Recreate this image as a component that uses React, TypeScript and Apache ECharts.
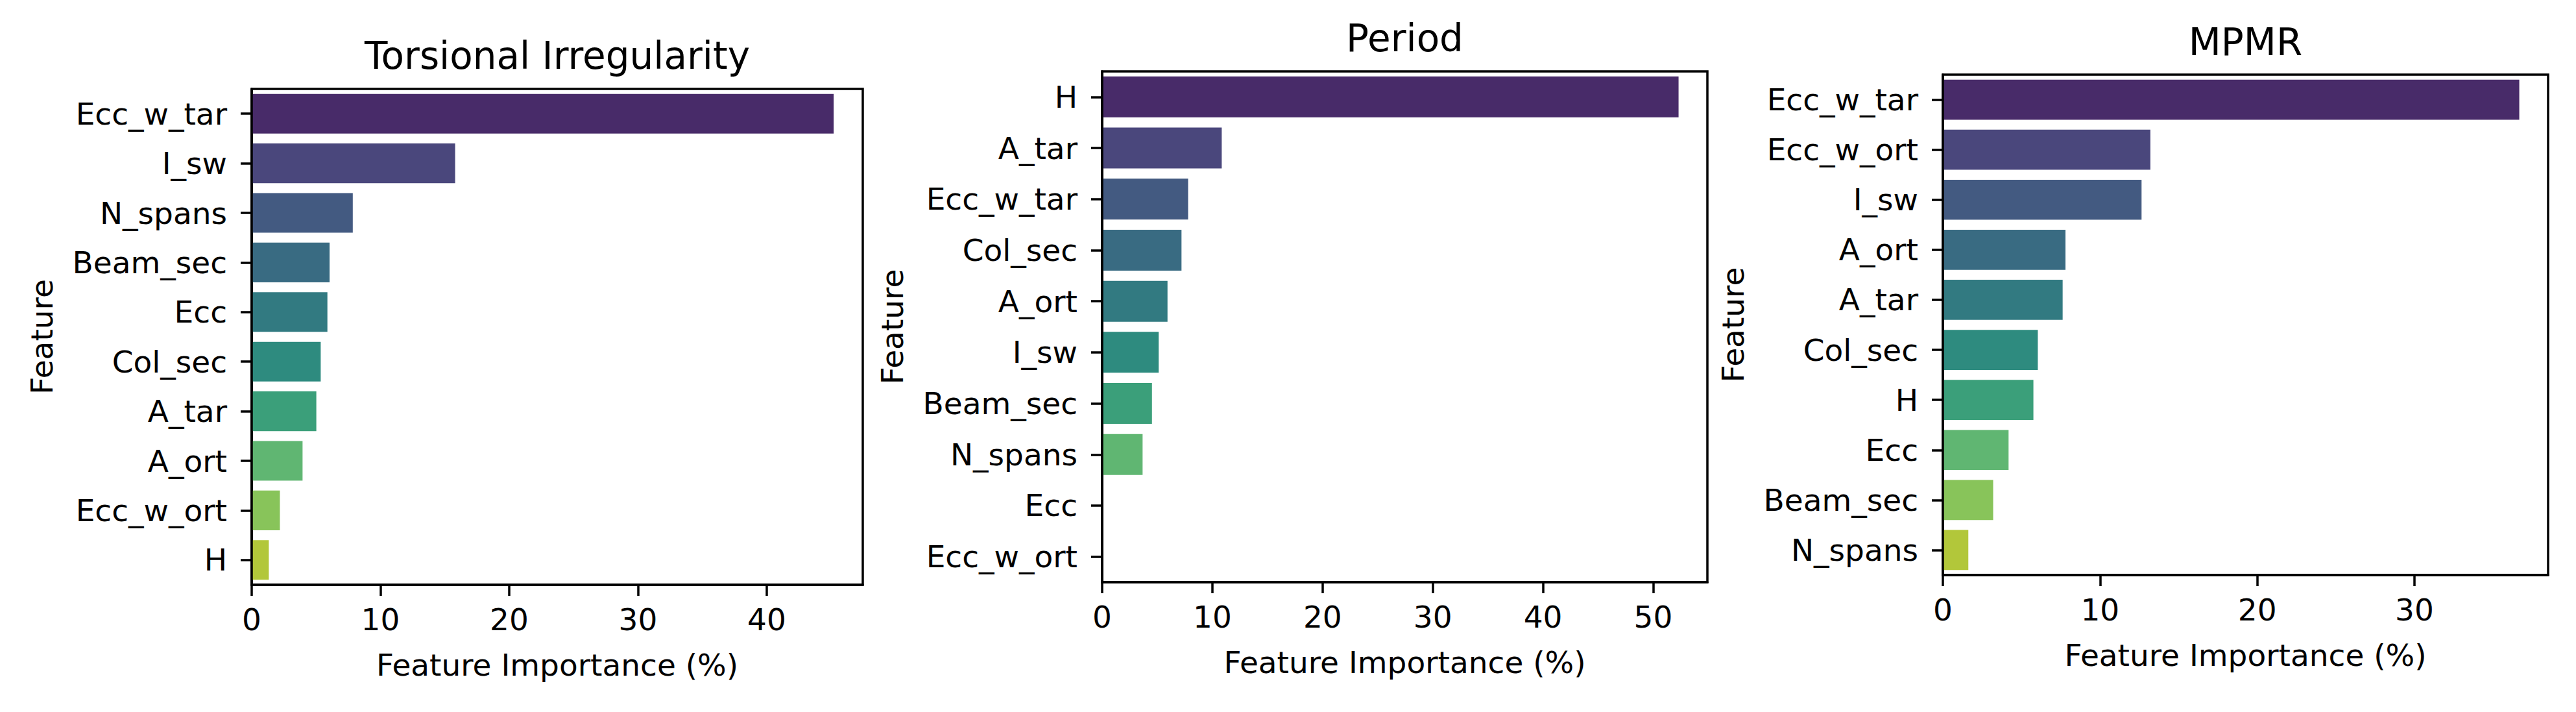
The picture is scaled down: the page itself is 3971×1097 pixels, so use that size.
import React, { useEffect, useRef } from "react";
import * as echarts from "echarts";

// ---- Data ----
const panelTitles = ["Torsional Irregularity", "Period", "MPMR"];

const tiFeatures = ["Ecc_w_tar", "I_sw", "N_spans", "Beam_sec", "Ecc", "Col_sec", "A_tar", "A_ort", "Ecc_w_ort", "H"];
const tiValues = [45.2, 15.8, 7.85, 6.05, 5.88, 5.36, 5.02, 3.95, 2.19, 1.33];

const periodFeatures = ["H", "A_tar", "Ecc_w_tar", "Col_sec", "A_ort", "I_sw", "Beam_sec", "N_spans", "Ecc", "Ecc_w_ort"];
const periodValues = [52.3, 10.85, 7.8, 7.2, 5.93, 5.13, 4.52, 3.67, 0, 0];

const mpmrFeatures = ["Ecc_w_tar", "Ecc_w_ort", "I_sw", "A_ort", "A_tar", "Col_sec", "H", "Ecc", "Beam_sec", "N_spans"];
const mpmrValues = [36.67, 13.2, 12.64, 7.8, 7.62, 6.04, 5.76, 4.18, 3.2, 1.62];

const tiTicks = [0, 10, 20, 30, 40];
const periodTicks = [0, 10, 20, 30, 40, 50];
const mpmrTicks = [0, 10, 20, 30];

const xAxisName = "Feature Importance (%)";
const yAxisName = "Feature";

// viridis (10) desaturated to 0.75, as seaborn's barplot does
const palette = ["#482b69", "#4a477c", "#435a81", "#396b82", "#327a81", "#2e8b7f", "#3b9f7a", "#60b672", "#88c45a", "#b2c73a"];

// ---- Layout ----
const FONT = "DejaVu Sans";
const layout = [
  { left: 388, top: 137, width: 942, height: 764, titleY: 86 },
  { left: 1699, top: 110, width: 933, height: 787, titleY: 59 },
  { left: 2995, top: 115, width: 933, height: 771, titleY: 65 },
];

const panels = [
  { title: panelTitles[0], cats: tiFeatures, vals: tiValues, ticks: tiTicks },
  { title: panelTitles[1], cats: periodFeatures, vals: periodValues, ticks: periodTicks },
  { title: panelTitles[2], cats: mpmrFeatures, vals: mpmrValues, ticks: mpmrTicks },
];

export default function App() {
  const ref = useRef<HTMLDivElement>(null);
  useEffect(() => {
    if (!ref.current) return;
    const chart = echarts.init(ref.current, undefined, { renderer: "svg" });
    const lineStyle = { color: "#000", width: 3.5 };
    const option: any = {
      animation: false,
      backgroundColor: "#fff",
      textStyle: { fontFamily: FONT },
      grid: layout.map((l) => ({
        left: l.left,
        top: l.top,
        width: l.width,
        height: l.height,
        show: true,
        borderColor: "#000",
        borderWidth: 3.5,
        backgroundColor: "transparent",
        containLabel: false,
      })),
      xAxis: panels.map((p, i) => ({
        type: "value",
        gridIndex: i,
        min: 0,
        max: Math.max(...p.vals) * 1.05,
        z: 5,
        axisLine: { show: true, lineStyle },
        axisTick: { show: true, length: 17, lineStyle, customValues: p.ticks },
        axisLabel: { customValues: p.ticks, fontSize: 47, color: "#000", margin: 30, fontFamily: FONT },
        splitLine: { show: false },
        name: xAxisName,
        nameLocation: "middle",
        nameGap: 100,
        nameTextStyle: { fontSize: 47, color: "#000", fontFamily: FONT },
      })),
      yAxis: panels.map((p, i) => ({
        type: "category",
        gridIndex: i,
        data: p.cats,
        inverse: true,
        z: 5,
        axisLine: { show: true, lineStyle },
        axisTick: { show: true, alignWithLabel: true, length: 17, lineStyle },
        axisLabel: { fontSize: 47, color: "#000", margin: 38, fontFamily: FONT },
        splitLine: { show: false },
        name: yAxisName,
        nameLocation: "middle",
        nameRotate: 90,
        nameGap: 300,
        nameTextStyle: { fontSize: 47, color: "#000", fontFamily: FONT },
      })),
      series: panels.map((p, i) => ({
        type: "bar",
        xAxisIndex: i,
        yAxisIndex: i,
        barWidth: "80%",
        data: p.vals.map((v, j) => ({ value: v, itemStyle: { color: palette[j] } })),
      })),
      graphic: panels.map((p, i) => ({
        type: "text",
        x: layout[i].left + layout[i].width / 2,
        y: layout[i].titleY,
        style: {
          text: p.title,
          fontSize: 58,
          fontFamily: FONT,
          fill: "#000",
          textAlign: "center",
          textVerticalAlign: "middle",
        },
      })),
    };
    chart.setOption(option);
    return () => chart.dispose();
  }, []);
  return (
    <div
      ref={ref}
      style={{ position: "absolute", left: 0, top: 0, width: 3971, height: 1097, background: "#fff" }}
    />
  );
}
